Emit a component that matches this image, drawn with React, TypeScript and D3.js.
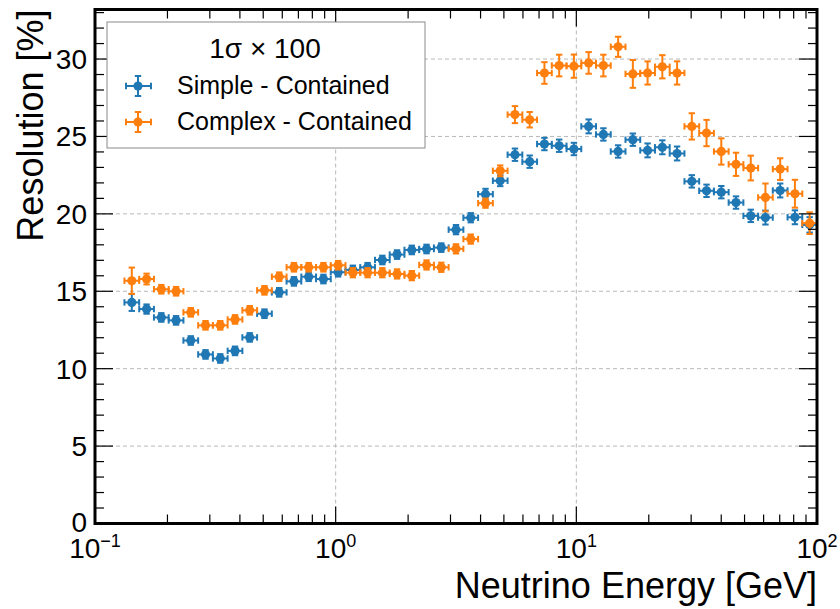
import React from "react";
import * as d3 from "d3";

// Bin centres (GeV), log-spaced bins
const energies = [
  0.1422, 0.1638, 0.1886, 0.2172, 0.25, 0.2879, 0.3315, 0.3817, 0.4394, 0.506,
  0.5826, 0.6708, 0.7724, 0.8893, 1.0238, 1.1788, 1.3573, 1.5629, 1.7995, 2.072,
  2.3857, 2.747, 3.1623, 3.6413, 4.1927, 4.8275, 5.5585, 6.4003, 7.3695, 8.4854,
  9.7704, 11.25, 12.953, 14.915, 17.173, 19.774, 22.768, 26.216, 30.186, 34.757,
  40.02, 46.08, 53.058, 61.054, 70.3, 80.96, 93.19,
];
const logBinHalfWidth = 0.0306;

const simpleValues = [
  14.28, 13.85, 13.31, 13.12, 11.82, 10.92, 10.66, 11.15, 12.02, 13.55,
  14.93, 15.64, 15.94, 15.79, 16.23, 16.38, 16.55, 17.02, 17.37, 17.67,
  17.73, 17.82, 18.98, 19.75, 21.27, 22.14, 23.82, 23.37, 24.51, 24.4,
  24.19, 25.65, 25.13, 24.03, 24.79, 24.1, 24.3, 23.9, 22.1, 21.49,
  21.4, 20.73, 19.87, 19.76, 21.51, 19.78, 19.29,
];
const simpleErrors = [
  0.55, 0.3, 0.28, 0.28, 0.28, 0.28, 0.28, 0.28, 0.28, 0.28,
  0.28, 0.28, 0.28, 0.28, 0.28, 0.28, 0.28, 0.28, 0.28, 0.28,
  0.28, 0.28, 0.3, 0.3, 0.35, 0.35, 0.4, 0.4, 0.4, 0.4,
  0.4, 0.45, 0.4, 0.4, 0.4, 0.45, 0.45, 0.45, 0.4, 0.4,
  0.4, 0.4, 0.4, 0.45, 0.45, 0.45, 0.5,
];
const complexValues = [
  15.68, 15.79, 15.13, 15.0, 13.64, 12.8, 12.8, 13.18, 13.77, 15.06,
  15.94, 16.55, 16.55, 16.55, 16.68, 16.2, 16.2, 16.2, 16.12, 16.01,
  16.7, 16.55, 17.74, 18.37, 20.69, 22.78, 26.41, 26.08, 29.1, 29.58,
  29.54, 29.75, 29.58, 30.79, 29.04, 29.1, 29.5, 29.1, 25.65, 25.22,
  24.03, 23.2, 22.96, 21.06, 22.89, 21.3, 19.4,
];
const complexErrors = [
  0.85, 0.35, 0.28, 0.28, 0.28, 0.28, 0.28, 0.28, 0.28, 0.28,
  0.28, 0.28, 0.28, 0.28, 0.28, 0.3, 0.3, 0.3, 0.3, 0.3,
  0.3, 0.3, 0.3, 0.3, 0.3, 0.35, 0.55, 0.5, 0.7, 0.7,
  0.75, 0.7, 0.7, 0.65, 0.9, 0.75, 0.75, 0.75, 0.85, 0.85,
  0.85, 0.75, 0.8, 0.9, 0.7, 0.9, 0.7,
];

const seriesNames = ["Simple - Contained", "Complex - Contained"];
const seriesColors = ["#1f77b4", "#ff7f0e"];
const legendTitle = "1σ × 100";
const xMajorTicks = [0.1, 1, 10, 100];
const xMajorExponents = ["−1", "0", "1", "2"];
const yMajorTicks = [0, 5, 10, 15, 20, 25, 30];
const xLabel = "Neutrino Energy [GeV]";
const yLabel = "Resolution [%]";

const W = 840;
const H = 609;
const L = 95, R = 817, T = 9.5, B = 523.5;
const FONT = "'Liberation Sans', Arial, Helvetica, sans-serif";

export default function App() {
  const x = d3.scaleLog().domain([0.1, 100]).range([L, R]);
  const y = d3.scaleLinear().domain([0, 33.2]).range([B, T]);

  const xMinor: number[] = [];
  [0.1, 1, 10].forEach((d) => {
    for (let k = 2; k <= 9; k++) xMinor.push(d * k);
  });
  const yMinor = d3.range(0, 34, 1).filter((v) => v % 5 !== 0);

  const series = [
    { vals: simpleValues, errs: simpleErrors, color: seriesColors[0] },
    { vals: complexValues, errs: complexErrors, color: seriesColors[1] },
  ];
  const cap = 3.2;
  const hw = Math.pow(10, logBinHalfWidth);

  const errMarker = (cx: number, cy: number, x0: number, x1: number, y0: number, y1: number, color: string, key: string) => (
    <g key={key} stroke={color} strokeWidth={2} fill={color}>
      <line x1={x0} x2={x1} y1={cy} y2={cy} />
      <line x1={x0} x2={x0} y1={cy - cap} y2={cy + cap} />
      <line x1={x1} x2={x1} y1={cy - cap} y2={cy + cap} />
      <line x1={cx} x2={cx} y1={y0} y2={y1} />
      <line x1={cx - cap} x2={cx + cap} y1={y0} y2={y0} />
      <line x1={cx - cap} x2={cx + cap} y1={y1} y2={y1} />
      <circle cx={cx} cy={cy} r={4.6} stroke="none" />
    </g>
  );

  return (
    <svg width={W} height={H} style={{ position: "absolute", left: 0, top: 0, background: "#fff" }} fontFamily={FONT}>
      <rect x={0} y={0} width={W} height={H} fill="#fff" />
      {/* grid */}
      <g stroke="#b8b8b8" strokeWidth={1} strokeDasharray="4,3">
        {xMajorTicks.slice(1, -1).map((t) => (
          <line key={"gx" + t} x1={x(t)} x2={x(t)} y1={T} y2={B} />
        ))}
        {yMajorTicks.slice(1).map((t) => (
          <line key={"gy" + t} x1={L} x2={R} y1={y(t)} y2={y(t)} />
        ))}
      </g>
      {/* data */}
      {series.map((s, si) => (
        <g key={"s" + si}>
          {s.vals.map((v, i) => {
            const e = energies[i];
            return errMarker(x(e), y(v), x(e / hw), x(e * hw), y(v - s.errs[i]), y(v + s.errs[i]), s.color, si + "-" + i);
          })}
        </g>
      ))}
      {/* ticks */}
      <g stroke="#000" strokeWidth={1.2}>
        {xMajorTicks.map((t) => (
          <g key={"xt" + t}>
            <line x1={x(t)} x2={x(t)} y1={B} y2={B - 17} />
            <line x1={x(t)} x2={x(t)} y1={T} y2={T + 17} />
          </g>
        ))}
        {xMinor.map((t) => (
          <g key={"xm" + t}>
            <line x1={x(t)} x2={x(t)} y1={B} y2={B - 9} />
            <line x1={x(t)} x2={x(t)} y1={T} y2={T + 9} />
          </g>
        ))}
        {yMajorTicks.map((t) => (
          <g key={"yt" + t}>
            <line x1={L} x2={L + 18} y1={y(t)} y2={y(t)} />
            <line x1={R} x2={R - 18} y1={y(t)} y2={y(t)} />
          </g>
        ))}
        {yMinor.map((t) => (
          <g key={"ym" + t}>
            <line x1={L} x2={L + 9} y1={y(t)} y2={y(t)} />
            <line x1={R} x2={R - 9} y1={y(t)} y2={y(t)} />
          </g>
        ))}
      </g>
      {/* frame */}
      <rect x={L} y={T} width={R - L} height={B - T} fill="none" stroke="#000" strokeWidth={3} />
      {/* tick labels */}
      <g fontSize={28} fill="#000">
        {yMajorTicks.map((t) => (
          <text key={"yl" + t} x={L - 8} y={y(t) + (t === 0 ? 8 : 10)} textAnchor="end">
            {t}
          </text>
        ))}
        {xMajorTicks.map((t, i) => (
          <text key={"xl" + t} x={x(t)} y={558} textAnchor="middle">
            10
            <tspan fontSize={18} dy={-11}>
              {xMajorExponents[i]}
            </tspan>
          </text>
        ))}
      </g>
      {/* axis labels */}
      <text x={R} y={598} textAnchor="end" fontSize={36} fill="#000">
        {xLabel}
      </text>
      <text transform={`translate(43, ${T}) rotate(-90)`} textAnchor="end" fontSize={36} fill="#000">
        {yLabel}
      </text>
      {/* legend */}
      <g>
        <rect x={107} y={22} width={318} height={126} fill="#fff" stroke="#8a8a8a" strokeWidth={1} />
        <text x={265} y={58} textAnchor="middle" fontSize={28} fill="#000">
          {legendTitle}
        </text>
        {seriesNames.map((n, i) => {
          const cy = 86 + i * 36;
          return (
            <g key={"lg" + i}>
              {errMarker(138, cy, 126, 151, cy + 10, cy - 10, seriesColors[i], "lgm" + i)}
              <text x={177} y={cy + 8} fontSize={25} fill="#000">
                {n}
              </text>
            </g>
          );
        })}
      </g>
    </svg>
  );
}
